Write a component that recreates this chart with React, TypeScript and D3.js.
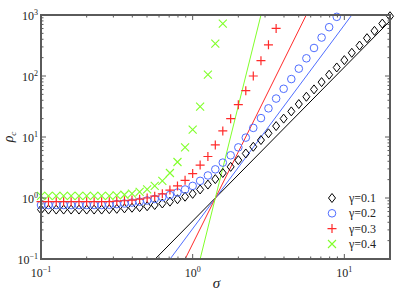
import React from 'react';
import * as d3 from 'd3';

const width = 399;
const height = 293;
const margin = { top: 15, right: 9, bottom: 34, left: 41 };

// sigma values shared by every series (log-spaced)
const sigma = [
  0.1, 0.112, 0.126, 0.141, 0.158, 0.178, 0.2, 0.224, 0.251, 0.282,
  0.316, 0.355, 0.398, 0.447, 0.501, 0.562, 0.631, 0.708, 0.794, 0.891,
  1.0, 1.12, 1.26, 1.41, 1.58, 1.78, 2.0, 2.24, 2.51, 2.82,
  3.16, 3.55, 3.98, 4.47, 5.01, 5.62, 6.31, 7.08, 7.94, 8.91,
  10.0, 11.2, 12.6, 14.1, 15.8, 17.8, 20.0,
];

const rhoG01 = [
  0.646, 0.646, 0.646, 0.646, 0.646, 0.646, 0.646, 0.646, 0.646, 0.655,
  0.664, 0.676, 0.692, 0.708, 0.733, 0.767, 0.813, 0.871, 0.955, 1.05,
  1.17, 1.38, 1.66, 2.04, 2.57, 3.24, 4.17, 5.37, 6.92, 8.91,
  11.5, 15.1, 20.0, 26.3, 34.7, 45.7, 60.3, 79.4, 105, 138,
  182, 240, 316, 417, 550, 724, 955,
];
const rhoG02 = [
  0.767, 0.767, 0.767, 0.767, 0.767, 0.767, 0.767, 0.767, 0.767, 0.776,
  0.794, 0.813, 0.841, 0.871, 0.912, 0.966, 1.035, 1.12, 1.23, 1.38,
  1.58, 1.91, 2.34, 2.95, 3.8, 5.01, 6.76, 9.77, 14.1, 20.4,
  29.5, 42.7, 61.7, 89.1, 132, 195, 288, 427, 631, 933,
];
const rhoG03 = [
  0.871, 0.871, 0.871, 0.871, 0.871, 0.871, 0.871, 0.871, 0.871, 0.871,
  0.891, 0.902, 0.923, 0.955, 1.0, 1.07, 1.17, 1.35, 1.58, 1.95,
  2.51, 3.47, 4.79, 7.41, 12.6, 20.0, 33.9, 57.5, 100, 178,
  324, 603,
];
const rhoG04 = [
  1.08, 1.08, 1.08, 1.08, 1.08, 1.08, 1.08, 1.08, 1.08, 1.08,
  1.1, 1.13, 1.18, 1.26, 1.38, 1.58, 1.91, 2.57, 3.89, 6.76,
  13.2, 31.6, 105, 339, 724,
];

// straight fit lines, given by their end points [sigma, rho]
const fitG01 = [[0.566, 0.1], [20, 800]];
const fitG02 = [[0.71, 0.1], [11.2, 1000]];
const fitG03 = [[0.892, 0.1], [5.61, 1000]];
const fitG04 = [[1.12, 0.1], [2.82, 1000]];

const seriesNames = ['γ=0.1', 'γ=0.2', 'γ=0.3', 'γ=0.4'];
const seriesColors = ['#000000', '#4f6dff', '#ff2a2a', '#80ff2a'];
const markerKinds = ['diamond', 'circle', 'plus', 'cross'];
const seriesRho = [rhoG01, rhoG02, rhoG03, rhoG04];
const seriesFit = [fitG01, fitG02, fitG03, fitG04];

const xTicks = [0.1, 1, 10];
const xTickExp = ['−1', '0', '1'];
const yTicks = [0.1, 1, 10, 100, 1000];
const yTickExp = ['−1', '0', '1', '2', '3'];

const serif = "'Liberation Serif', 'DejaVu Serif', serif";

const Marker = ({ kind, x, y, color }: { kind: string; x: number; y: number; color: string }) => {
  const s = 4;
  if (kind === 'diamond') {
    return (
      <path
        d={`M${x},${y - 4.5}L${x + 3.5},${y}L${x},${y + 4.5}L${x - 3.5},${y}Z`}
        fill="none"
        stroke={color}
        strokeWidth={1}
      />
    );
  }
  if (kind === 'circle') {
    return <circle cx={x} cy={y} r={3.8} fill="none" stroke={color} strokeWidth={1} />;
  }
  if (kind === 'plus') {
    return (
      <path
        d={`M${x - 4.5},${y}H${x + 4.5}M${x},${y - 4.5}V${y + 4.5}`}
        stroke={color}
        strokeWidth={1.2}
      />
    );
  }
  return (
    <path
      d={`M${x - s},${y - s}L${x + s},${y + s}M${x - s},${y + s}L${x + s},${y - s}`}
      stroke={color}
      strokeWidth={1.1}
    />
  );
};

const App = () => {
  const x = d3.scaleLog().domain([0.1, 20]).range([margin.left, width - margin.right]);
  const y = d3.scaleLog().domain([0.1, 1000]).range([height - margin.bottom, margin.top]);
  const [x0, x1] = x.range();
  const [y0, y1] = y.range();

  const line = d3
    .line<number[]>()
    .x((d) => x(d[0]))
    .y((d) => y(d[1]));

  // minor ticks
  const xMinor: number[] = [];
  for (const dec of [0.1, 1, 10]) {
    for (let k = 2; k <= 9; k++) {
      const v = dec * k;
      if (v <= 20) xMinor.push(v);
    }
  }
  const yMinor: number[] = [];
  for (const dec of [0.1, 1, 10, 100]) {
    for (let k = 2; k <= 9; k++) yMinor.push(dec * k);
  }

  const frame = '#5a5a5a';
  const legendY = [198, 213.3, 228.6, 244];
  const textStyle = { fontFamily: serif };

  return (
    <svg
      width={width}
      height={height}
      style={{ position: 'absolute', left: 0, top: 0, background: '#fff' }}
    >
      <defs>
        <clipPath id="plot">
          <rect x={x0} y={y1} width={x1 - x0} height={y0 - y1} />
        </clipPath>
      </defs>

      {/* fit lines */}
      <g clipPath="url(#plot)">
        {seriesFit.map((f, i) => (
          <path key={i} d={line(f) ?? ''} fill="none" stroke={seriesColors[i]} strokeWidth={1} />
        ))}
      </g>

      {/* markers */}
      {seriesRho.map((vals, i) => (
        <g key={i}>
          {vals.map((v, j) => (
            <Marker key={j} kind={markerKinds[i]} x={x(sigma[j])} y={y(v)} color={seriesColors[i]} />
          ))}
        </g>
      ))}

      {/* frame */}
      <rect x={x0} y={y1} width={x1 - x0} height={y0 - y1} fill="none" stroke={frame} strokeWidth={2} />

      {/* ticks */}
      <g stroke={frame} strokeWidth={1}>
        {xTicks.map((t) => (
          <g key={t}>
            <line x1={x(t)} x2={x(t)} y1={y0} y2={y0 - 5} />
            <line x1={x(t)} x2={x(t)} y1={y1} y2={y1 + 5} />
          </g>
        ))}
        {xMinor.map((t) => (
          <g key={t}>
            <line x1={x(t)} x2={x(t)} y1={y0} y2={y0 - 2.5} />
            <line x1={x(t)} x2={x(t)} y1={y1} y2={y1 + 2.5} />
          </g>
        ))}
        {yTicks.map((t) => (
          <g key={t}>
            <line x1={x0} x2={x0 + 5} y1={y(t)} y2={y(t)} />
            <line x1={x1} x2={x1 - 5} y1={y(t)} y2={y(t)} />
          </g>
        ))}
        {yMinor.map((t) => (
          <g key={t}>
            <line x1={x0} x2={x0 + 2.5} y1={y(t)} y2={y(t)} />
            <line x1={x1} x2={x1 - 2.5} y1={y(t)} y2={y(t)} />
          </g>
        ))}
      </g>

      {/* tick labels */}
      {xTicks.map((t, i) => (
        <text key={t} x={x(t)} y={y0 + 18} textAnchor="middle" fontSize={12} fill="#222" style={textStyle}>
          10
          <tspan dy={-5} fontSize={8}>
            {xTickExp[i]}
          </tspan>
        </text>
      ))}
      {yTicks.map((t, i) => (
        <text key={t} x={x0 - 3} y={y(t) + 4.5} textAnchor="end" fontSize={12} fill="#222" style={textStyle}>
          10
          <tspan dy={-5} fontSize={8}>
            {yTickExp[i]}
          </tspan>
        </text>
      ))}

      {/* axis titles */}
      <text
        x={(x0 + x1) / 2 + 1}
        y={288}
        textAnchor="middle"
        fontSize={15}
        fontStyle="italic"
        fill="#222"
        style={textStyle}
      >
        σ
      </text>
      <text
        transform={`translate(13,${(y0 + y1) / 2}) rotate(-90)`}
        textAnchor="middle"
        fontSize={14}
        fontStyle="italic"
        fill="#222"
        style={textStyle}
      >
        ρ
        <tspan dy={3} fontSize={9}>
          c
        </tspan>
      </text>

      {/* legend */}
      {seriesNames.map((name, i) => (
        <g key={name}>
          <Marker kind={markerKinds[i]} x={332} y={legendY[i]} color={seriesColors[i]} />
          <text x={349} y={legendY[i] + 4} fontSize={12} fill="#222" style={textStyle}>
            {name}
          </text>
        </g>
      ))}
    </svg>
  );
};

export default App;
